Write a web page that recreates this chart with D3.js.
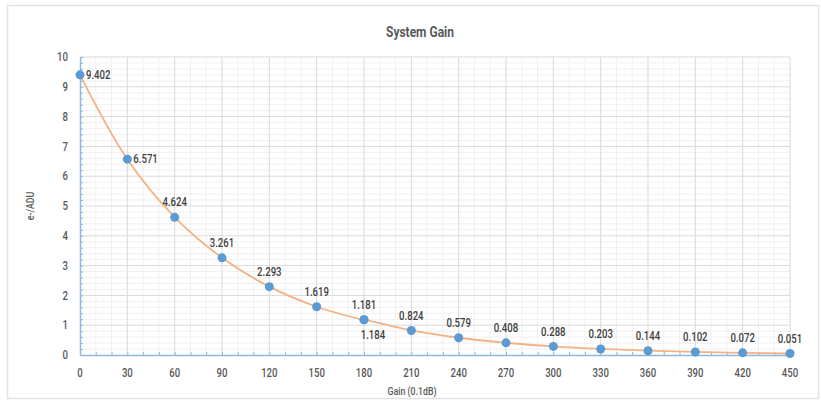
<!DOCTYPE html>
<html>
<head>
<meta charset="utf-8">
<script src="https://cdn.jsdelivr.net/npm/d3@7"></script>
<style>
  html, body { margin: 0; padding: 0; background: #ffffff; }
  svg { display: block; }
  text { font-family: Roboto, "DejaVu Sans Condensed", sans-serif; }
</style>
</head>
<body>
<svg id="chart" width="821" height="401"></svg>
<script>
// ---- data ----
const gains   = [0, 30, 60, 90, 120, 150, 180, 180, 210, 240, 270, 300, 330, 360, 390, 420, 450];
const values  = [9.402, 6.571, 4.624, 3.261, 2.293, 1.619, 1.181, 1.184, 0.824, 0.579, 0.408, 0.288, 0.203, 0.144, 0.102, 0.072, 0.051];
const labelPlacement = ["right", "right", "above", "above", "above", "above", "above", "below", "above", "above", "above", "above", "above", "above", "above", "above", "above"];
const xTicks  = [0, 30, 60, 90, 120, 150, 180, 210, 240, 270, 300, 330, 360, 390, 420, 450];
const yTicks  = [0, 1, 2, 3, 4, 5, 6, 7, 8, 9, 10];
const title   = "System Gain";
const xTitle  = "Gain (0.1dB)";
const yTitle  = "e-/ADU";

// ---- layout ----
const W = 821, H = 401;
const m = { left: 80, right: 31, top: 57, bottom: 46 };
const SX = 0.8; // horizontal condensing of text
const svg = d3.select("#chart");

svg.append("rect").attr("x", 7.5).attr("y", 5.5).attr("width", 811).attr("height", 393)
  .attr("fill", "#fff").attr("stroke", "#e3e3e3").attr("stroke-width", 1.5);

const x = d3.scaleLinear().domain([0, 450]).range([m.left, W - m.right]);
const y = d3.scaleLinear().domain([0, 10]).range([H - m.bottom, m.top]);

const g = svg.append("g");

// minor grid
const xMinor = d3.range(0, 451, 10);
const yMinor = d3.range(0, 50.5, 1).map(v => v / 5);
g.append("g").selectAll("line").data(xMinor.filter(v => v % 30 !== 0)).join("line")
  .attr("x1", d => x(d)).attr("x2", d => x(d)).attr("y1", y(0)).attr("y2", y(10))
  .attr("stroke", "#f0f0f0").attr("stroke-width", 1);
g.append("g").selectAll("line").data(yMinor.filter(v => Math.abs(v - Math.round(v)) > 1e-6)).join("line")
  .attr("x1", x(0)).attr("x2", x(450)).attr("y1", d => y(d)).attr("y2", d => y(d))
  .attr("stroke", "#f0f0f0").attr("stroke-width", 1);
// major grid
g.append("g").selectAll("line").data(xTicks.slice(1)).join("line")
  .attr("x1", d => x(d)).attr("x2", d => x(d)).attr("y1", y(0)).attr("y2", y(10))
  .attr("stroke", "#d9d9d9").attr("stroke-width", 1);
g.append("g").selectAll("line").data(yTicks.slice(1)).join("line")
  .attr("x1", x(0)).attr("x2", x(450)).attr("y1", d => y(d)).attr("y2", d => y(d))
  .attr("stroke", "#d9d9d9").attr("stroke-width", 1);

// axes (blue line, inward ticks)
const axisColor = "#8fb8e3";
const xAxis = g.append("g").attr("transform", `translate(0,${y(0)})`)
  .call(d3.axisBottom(x).tickValues(xMinor).tickSizeInner(-3).tickSizeOuter(0).tickFormat(""));
const yAxis = g.append("g").attr("transform", `translate(${x(0)},0)`)
  .call(d3.axisLeft(y).tickValues(yMinor).tickSizeInner(-3).tickSizeOuter(0).tickFormat(""));
[xAxis, yAxis].forEach(a => {
  a.select(".domain").attr("stroke", axisColor).attr("stroke-width", 1.5);
  a.selectAll(".tick line").attr("stroke", axisColor).attr("stroke-width", 1);
});

function place(px, py, rot) {
  return `translate(${px},${py})` + (rot ? ` rotate(${rot})` : "") + ` scale(${SX},1)`;
}

// tick labels
const tickColor = "#595959";
g.append("g").selectAll("text").data(xTicks).join("text")
  .attr("transform", d => place(x(d), y(0) + 22))
  .attr("text-anchor", "middle").attr("font-size", 12).attr("font-weight", 500)
  .attr("fill", tickColor).text(d => d);
g.append("g").selectAll("text").data(yTicks).join("text")
  .attr("transform", d => place(x(0) - 12, y(d)))
  .attr("dy", "0.35em")
  .attr("text-anchor", "end").attr("font-size", 12).attr("font-weight", 500)
  .attr("fill", tickColor).text(d => d);

// titles
svg.append("text").attr("transform", place(420, 37))
  .attr("text-anchor", "middle")
  .attr("font-size", 15).attr("font-weight", "bold").attr("fill", "#595959").text(title);
svg.append("text").attr("transform", place(412, 395))
  .attr("text-anchor", "middle")
  .attr("font-size", 11).attr("font-weight", 500).attr("fill", tickColor).text(xTitle);
svg.append("text").attr("transform", `translate(34,${(y(0) + y(10)) / 2}) rotate(-90) scale(${SX},1)`)
  .attr("text-anchor", "middle").attr("font-size", 11).attr("font-weight", 500)
  .attr("fill", tickColor).text(yTitle);

// line
const pts = gains.map((gv, i) => [gv, values[i]]);
const line = d3.line().x(d => x(d[0])).y(d => y(d[1])).curve(d3.curveCatmullRom.alpha(0.5));
g.append("path").datum(pts).attr("d", line).attr("fill", "none")
  .attr("stroke", "#f4b183").attr("stroke-width", 1.8);

// points
g.append("g").selectAll("circle").data(pts).join("circle")
  .attr("cx", d => x(d[0])).attr("cy", d => y(d[1])).attr("r", 4.5)
  .attr("fill", "#5b9bd5");

// labels
g.append("g").selectAll("text").data(pts).join("text")
  .attr("transform", (d, i) => place(
    x(d[0]) + (labelPlacement[i] === "right" ? 6 : labelPlacement[i] === "below" ? 9 : 0),
    y(d[1]) + (labelPlacement[i] === "right" ? 0 : labelPlacement[i] === "below" ? 15 : -15)))
  .attr("dy", "0.35em")
  .attr("text-anchor", (d, i) => labelPlacement[i] === "right" ? "start" : "middle")
  .attr("font-size", 12).attr("font-weight", 500).attr("fill", "#404040")
  .text((d, i) => d3.format(".3f")(values[i]));
</script>
</body>
</html>
